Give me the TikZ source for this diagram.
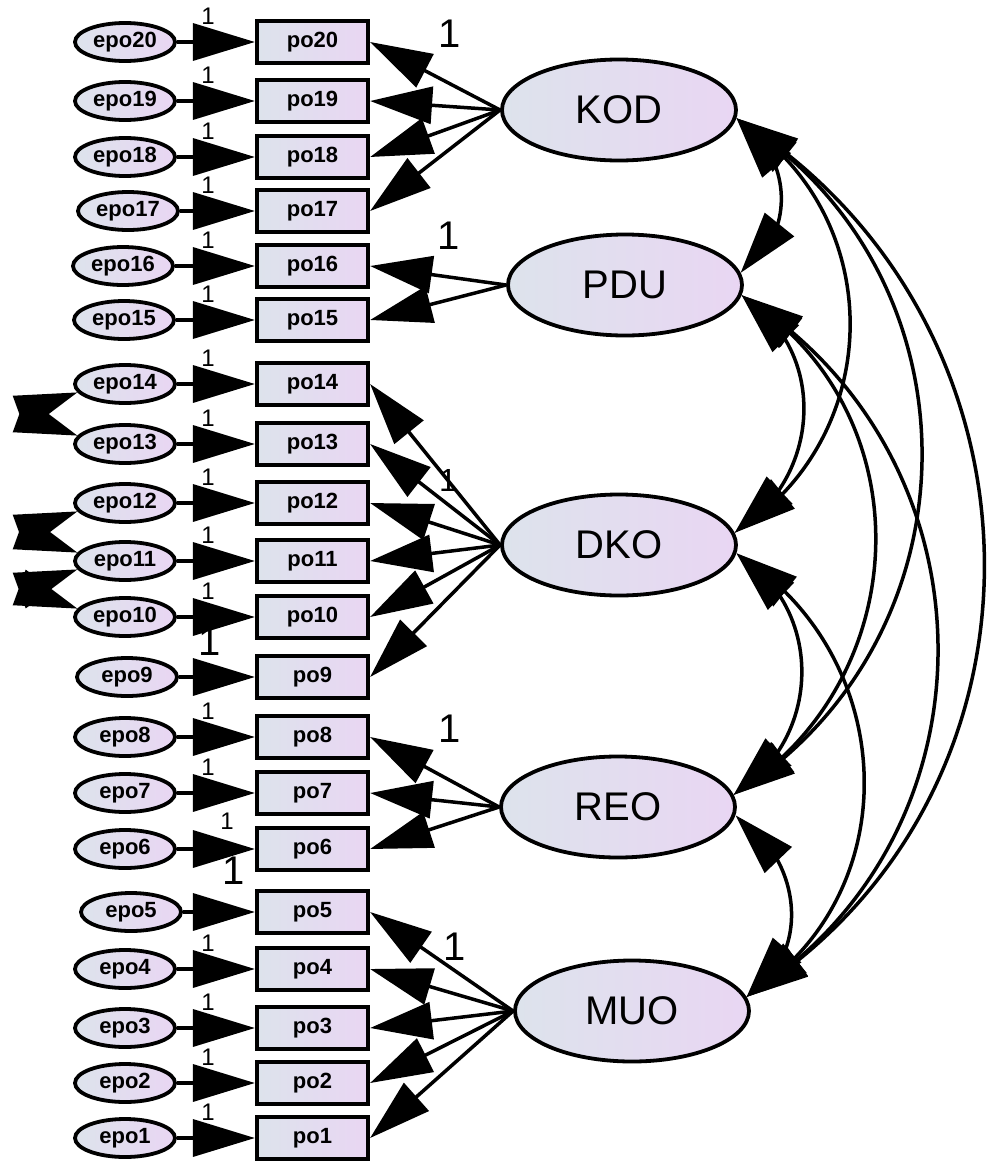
\documentclass[tikz,border=0pt]{standalone}
\usepackage{fontspec}
\setmainfont{Liberation Sans}
\usetikzlibrary{arrows.meta,shapes.geometric,bending}
\definecolor{fillL}{RGB}{221,227,236}
\definecolor{fillR}{RGB}{233,214,243}
\tikzset{
  obs/.style={draw=black, line width=4.2pt, rectangle, minimum width=111pt, minimum height=42pt, inner sep=0pt, left color=fillL, right color=fillR, font=\fontsize{22}{22}\selectfont\bfseries},
  err/.style={draw=black, line width=3.8pt, ellipse, minimum width=100pt, minimum height=38pt, inner sep=0pt, left color=fillL, right color=fillR, font=\fontsize{22}{22}\selectfont\bfseries},
  lat/.style={draw=black, line width=3.8pt, ellipse, minimum width=234pt, minimum height=101pt, inner sep=0pt, left color=fillL, right color=fillR, font=\fontsize{40}{40}\selectfont},
  big/.style={-{Triangle[length=62pt,width=37pt]}, line width=3.5pt},
  cov/.style={{Triangle[length=62pt,width=37pt,quick]}-{Triangle[length=62pt,width=37pt,quick]}, line width=3.5pt},
  arc/.style={{Triangle[length=62pt,width=37pt,flex]}-{Triangle[length=62pt,width=37pt,flex]}, line width=3.5pt, out=-32, in=32, looseness=1.11},
  one/.style={font=\fontsize{24}{24}\selectfont, inner sep=0pt},
  bigone/.style={font=\fontsize{40}{40}\selectfont, inner sep=0pt},
}
\begin{document}
\begin{tikzpicture}[x=1pt,y=1pt]
\useasboundingbox (0,0) rectangle (995,-1165);
% observed and error variables
\foreach \i/\y/\ex in {20/42/125,19/101/125,18/157/125,17/211/128,16/266/123,15/320/124,14/384/125,13/444/125,12/503/125,11/561/125,10/617/125,9/677/127,8/737/125,7/793/125,6/849/125,5/912/131,4/969/125,3/1028/125,2/1083/125,1/1138/125}{
  \node[obs] (po\i) at (312.5,-\y) {po\i};
  \node[err] (epo\i) at (\ex,-\y) {epo\i};
  \draw[big] (epo\i) -- (po\i);
}
% weight labels on error paths
\foreach \i/\y in {20/42,19/101,18/157,17/211,16/266,15/320,14/384,13/444,12/503,11/561,10/617,8/737,7/793,4/969,3/1028,2/1083,1/1138}{
  \node[one] (w\i) at (208,-\y+26) {1};
}
\node[one] (w6) at (227,-821) {1};
\node[bigone] (w9) at (210,-642) {1};
\node[bigone] (w5) at (234,-871) {1};
% latent variables
\node[lat] (KOD) at (619,-110) {KOD};
\node[lat] (PDU) at (625,-285) {PDU};
\node[lat] (DKO) at (619,-545) {DKO};
\node[lat] (REO) at (618,-807) {REO};
\node[lat] (MUO) at (632,-1011) {MUO};
% loadings
\foreach \i in {20,19,18,17} \draw[big] (KOD.west) -- (po\i.east);
\foreach \i in {16,15} \draw[big] (PDU.west) -- (po\i.east);
\foreach \i in {14,13,12,11,10,9} \draw[big] (DKO.west) -- (po\i.east);
\foreach \i in {8,7,6} \draw[big] (REO.west) -- (po\i.east);
\foreach \i in {5,4,3,2,1} \draw[big] (MUO.west) -- (po\i.east);
% fixed loading labels
\node[bigone] (fK) at (450,-34) {1};
\node[bigone] (fP) at (449,-236) {1};
\node[one, font=\fontsize{32}{32}\selectfont] (fD) at (448,-480) {1};
\node[bigone] (fR) at (450,-729) {1};
\node[bigone] (fM) at (455,-947) {1};
% covariances between latents
\draw[arc] (KOD.-4) to (PDU.6);
\draw[arc] (KOD.-4) to (DKO.6);
\draw[arc] (KOD.-4) to (REO.6);
\draw[arc] (KOD.-4) to (MUO.7);
\draw[arc] (PDU.-5) to (DKO.6);
\draw[arc] (PDU.-5) to (REO.6);
\draw[arc] (PDU.-5) to (MUO.7);
\draw[arc] (DKO.-4) to (REO.6);
\draw[arc] (DKO.-4) to (MUO.7);
\draw[arc] (REO.-4) to (MUO.7);
% error covariances
\draw[cov] (epo14.190) to[out=200,in=160,looseness=2] (epo13.170);
\draw[cov] (epo12.190) to[out=200,in=160,looseness=2] (epo11.170);
\draw[cov] (epo11.190) to[out=200,in=160,looseness=2] (epo10.170);
\end{tikzpicture}
\end{document}
